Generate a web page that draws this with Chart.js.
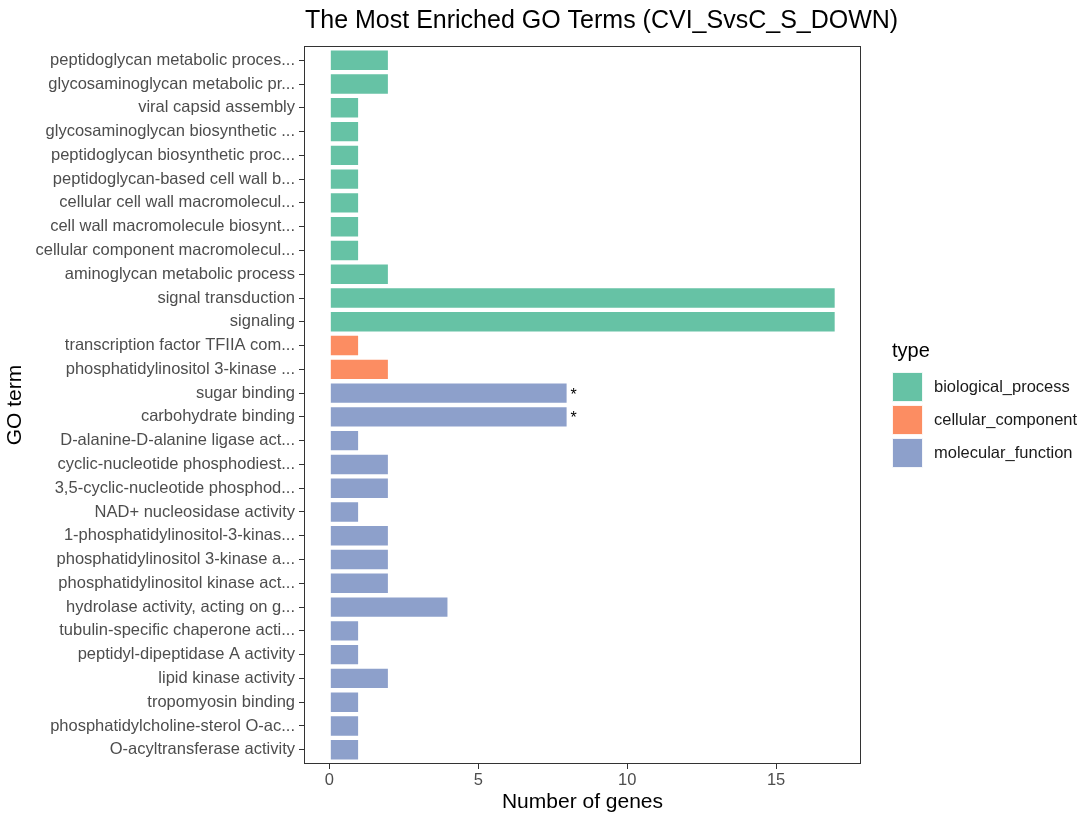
<!DOCTYPE html>
<html>
<head>
<meta charset="utf-8">
<script src="https://cdn.jsdelivr.net/npm/chart.js@4/dist/chart.umd.min.js"></script>
<style>
  html, body { margin: 0; padding: 0; background: #fff; }
  #wrap { width: 1083px; height: 816px; position: relative; }
</style>
</head>
<body>
<div id="wrap"><canvas id="c" width="1083" height="816"></canvas></div>
<script>
const chartTitle = "The Most Enriched GO Terms (CVI_SvsC_S_DOWN)";
const categories = [
  "peptidoglycan metabolic proces...",
  "glycosaminoglycan metabolic pr...",
  "viral capsid assembly",
  "glycosaminoglycan biosynthetic ...",
  "peptidoglycan biosynthetic proc...",
  "peptidoglycan-based cell wall b...",
  "cellular cell wall macromolecul...",
  "cell wall macromolecule biosynt...",
  "cellular component macromolecul...",
  "aminoglycan metabolic process",
  "signal transduction",
  "signaling",
  "transcription factor TFIIA com...",
  "phosphatidylinositol 3-kinase ...",
  "sugar binding",
  "carbohydrate binding",
  "D-alanine-D-alanine ligase act...",
  "cyclic-nucleotide phosphodiest...",
  "3,5-cyclic-nucleotide phosphod...",
  "NAD+ nucleosidase activity",
  "1-phosphatidylinositol-3-kinas...",
  "phosphatidylinositol 3-kinase a...",
  "phosphatidylinositol kinase act...",
  "hydrolase activity, acting on g...",
  "tubulin-specific chaperone acti...",
  "peptidyl-dipeptidase A activity",
  "lipid kinase activity",
  "tropomyosin binding",
  "phosphatidylcholine-sterol O-ac...",
  "O-acyltransferase activity"
];
const geneCounts = [2,2,1,1,1,1,1,1,1,2,17,17,1,2,8,8,1,2,2,1,2,2,2,4,1,1,2,1,1,1];
const termTypes = [
  "biological_process","biological_process","biological_process","biological_process",
  "biological_process","biological_process","biological_process","biological_process",
  "biological_process","biological_process","biological_process","biological_process",
  "cellular_component","cellular_component",
  "molecular_function","molecular_function","molecular_function","molecular_function",
  "molecular_function","molecular_function","molecular_function","molecular_function",
  "molecular_function","molecular_function","molecular_function","molecular_function",
  "molecular_function","molecular_function","molecular_function","molecular_function"
];
const significance = ["","","","","","","","","","","","","","","*","*","","","","","","","","","","","","","",""];
const typeNames = ["biological_process","cellular_component","molecular_function"];
const typeColors = ["#66C2A5","#FC8D62","#8DA0CB"];
const xTickValues = [0,5,10,15];
const xMin = -0.85, xMax = 17.85;
const yPad = 0.6;

const FONT = "'Liberation Sans', Arial, Helvetica, sans-serif";

const datasets = typeNames.map((t, i) => ({
  label: t,
  data: geneCounts.map((v, k) => termTypes[k] === t ? { x: v, y: k, star: significance[k] } : null).filter(Boolean),
  backgroundColor: typeColors[i],
  borderColor: "rgba(255,255,255,0.9)",
  borderWidth: 1,
  borderSkipped: false,
  categoryPercentage: 1.0,
  barPercentage: 0.9
}));

const decor = {
  id: "decor",
  afterDatasetsDraw(chart) {
    const ctx = chart.ctx;
    const a = chart.chartArea;
    ctx.save();
    ctx.strokeStyle = "#333333";
    ctx.lineWidth = 1;
    ctx.strokeRect(Math.round(a.left) + 0.5, Math.round(a.top) + 0.5,
                   Math.round(a.right - a.left) - 1, Math.round(a.bottom - a.top) - 1);
    ctx.fillStyle = "#000";
    ctx.font = "16px " + FONT;
    ctx.textAlign = "left";
    ctx.textBaseline = "middle";
    chart.data.datasets.forEach((ds, di) => {
      const meta = chart.getDatasetMeta(di);
      meta.data.forEach((el, k) => {
        const d = ds.data[k];
        if (d && d.star) ctx.fillText(d.star, el.x + 3, el.y + 2);
      });
    });
    ctx.restore();
  },
  afterDraw(chart) {
    const ctx = chart.ctx;
    const a = chart.chartArea;
    ctx.save();
    ctx.fillStyle = "#000";
    ctx.font = "25px " + FONT;
    ctx.textAlign = "left";
    ctx.textBaseline = "alphabetic";
    ctx.fillText(chartTitle, a.left + 1, 28);
    const lx = 892;
    ctx.font = "20px " + FONT;
    ctx.fillText("type", lx, 357);
    ctx.font = "16.5px " + FONT;
    ctx.textBaseline = "middle";
    typeNames.forEach((t, i) => {
      const y = 372 + i * 33;
      ctx.fillStyle = typeColors[i];
      ctx.fillRect(lx, y, 31, 30);
      ctx.strokeStyle = "rgba(255,255,255,0.9)";
      ctx.lineWidth = 1;
      ctx.strokeRect(lx + 0.5, y + 0.5, 30, 29);
      ctx.fillStyle = "#1a1a1a";
      ctx.fillText(t, lx + 42, y + 15);
    });
    ctx.restore();
  }
};

new Chart(document.getElementById("c"), {
  type: "bar",
  data: { datasets },
  options: {
    indexAxis: "y",
    responsive: false,
    animation: false,
    layout: { padding: { top: 46, right: 222, bottom: 0, left: 0 } },
    plugins: { legend: { display: false }, tooltip: { enabled: false }, title: { display: false } },
    scales: {
      x: {
        type: "linear",
        stacked: true,
        min: xMin,
        max: xMax,
        afterBuildTicks(scale) { scale.ticks = xTickValues.map(v => ({ value: v })); },
        afterFit(scale) { scale.height = 52; },
        grid: { display: true, drawOnChartArea: false, drawTicks: true, tickLength: 5, color: "#333333", tickWidth: 1 },
        border: { display: false },
        ticks: { color: "#4D4D4D", font: { family: FONT, size: 16.5 }, padding: 2, maxRotation: 0 },
        title: { display: true, text: "Number of genes", color: "#000", font: { family: FONT, size: 21 }, padding: { top: 0, bottom: 1 } }
      },
      y: {
        type: "linear",
        reverse: true,
        stacked: true,
        offset: false,
        min: -yPad,
        max: categories.length - 1 + yPad,
        afterBuildTicks(scale) { scale.ticks = categories.map((_, i) => ({ value: i })); },
        afterFit(scale) { scale.width = 304; },
        grid: { display: true, offset: false, drawOnChartArea: false, drawTicks: true, tickLength: 5, color: "#333333", tickWidth: 1 },
        border: { display: false },
        ticks: {
          color: "#4D4D4D", font: { family: FONT, size: 16.5 }, padding: 4, autoSkip: false,
          callback: (v) => categories[v]
        },
        title: { display: true, text: "GO term", color: "#000", font: { family: FONT, size: 21 }, padding: { top: 3, bottom: 0 } }
      }
    }
  },
  plugins: [decor]
});
</script>
</body>
</html>
